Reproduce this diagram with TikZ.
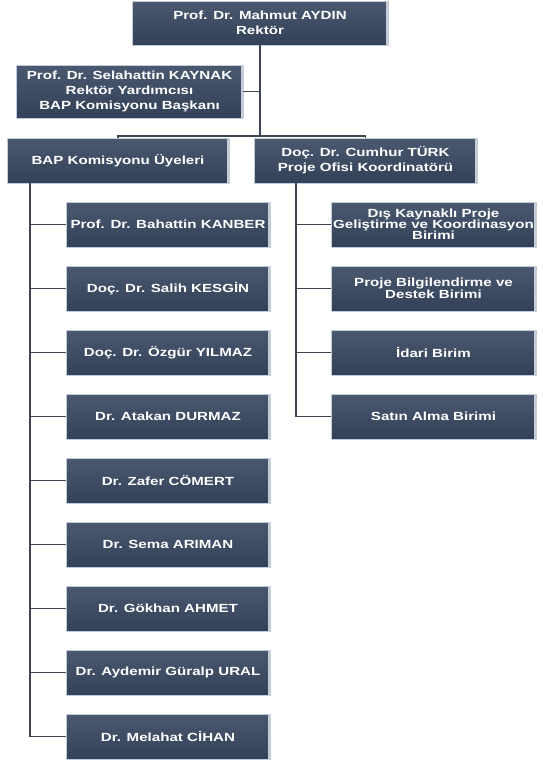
\documentclass[tikz,border=0pt]{standalone}
\usepackage{fontspec}
\usetikzlibrary{positioning}
\newfontfamily\boxfont{Liberation Sans}[FakeStretch=1.28]
\definecolor{boxtop}{RGB}{74,89,112}
\definecolor{boxbot}{RGB}{50,64,88}
\definecolor{boxedge}{RGB}{196,204,216}
\definecolor{linkgray}{RGB}{62,68,82}

\tikzset{
  unit/.style={draw=boxedge, line width=.6pt, top color=boxtop, bottom color=boxbot,
    text=white, align=center, inner sep=1pt, minimum height=45pt,
    font=\boxfont\bfseries\fontsize{11.8}{15}\selectfont,
    path picture={\fill[boxedge] ([xshift=-2.5pt]path picture bounding box.north east)
      rectangle (path picture bounding box.south east);}},
  member/.style={unit, minimum width=204pt},
  office/.style={unit, minimum width=205pt},
  tight/.style={font=\boxfont\bfseries\fontsize{11.8}{11}\selectfont},
  link/.style={draw=linkgray, line width=1.8pt},
}

\begin{document}
\begin{tikzpicture}[x=1pt, y=-1pt]
  \useasboundingbox (0,0) rectangle (560,764);
  % head
  \node[unit, minimum width=256pt, minimum height=44pt] (rektor) at (260,23)
    {Prof. Dr. Mahmut AYDIN\\Rektör};
  \node[unit, minimum width=227pt, minimum height=53pt] (yardimci) at (129.5,91.5)
    {Prof. Dr. Selahattin KAYNAK\\Rektör Yardımcısı\\BAP Komisyonu Başkanı};
  \node[unit, minimum width=222pt] (uyeler) at (118,160.5) {BAP Komisyonu Üyeleri};
  \node[unit, minimum width=223pt] (ofis) at (365.5,160.5)
    {Doç. Dr. Cumhur TÜRK\\Proje Ofisi Koordinatörü};
  \coordinate (split) at (260,136);
  \coordinate (ltop) at ([xshift=23pt]uyeler.south west);
  \coordinate (rtop) at ([xshift=42pt]ofis.south west);

  % members
  \foreach \name [count=\i from 0] in {Prof. Dr. Bahattin KANBER, Doç. Dr. Salih KESGİN,
      Doç. Dr. Özgür YILMAZ, Dr. Atakan DURMAZ, Dr. Zafer CÖMERT, Dr. Sema ARIMAN,
      Dr. Gökhan AHMET, Dr. Aydemir Güralp URAL, Dr. Melahat CİHAN}
    \node[member] (m\i) at (168,{224.5+64*\i}) {\name};

  % project office
  \node[office, tight] (o0) at (433.5,224.5)
    {Dış Kaynaklı Proje\\Geliştirme ve Koordinasyon\\Birimi};
  \node[office, tight] (o1) at (433.5,288.5) {Proje Bilgilendirme ve\\Destek Birimi};
  \node[office] (o2) at (433.5,352.5) {İdari Birim};
  \node[office] (o3) at (433.5,416.5) {Satın Alma Birimi};

  \draw[link] (rektor.south) -- (split);
  \draw[link] (yardimci.east) -- (yardimci.east -| split);
  \draw[link] (uyeler.north) |- (split) -| (ofis.north);
  \foreach \i in {0,...,8}
    \draw[link] (ltop) |- (m\i.west);
  \foreach \i in {0,...,3}
    \draw[link] (rtop) |- (o\i.west);
\end{tikzpicture}
\end{document}
